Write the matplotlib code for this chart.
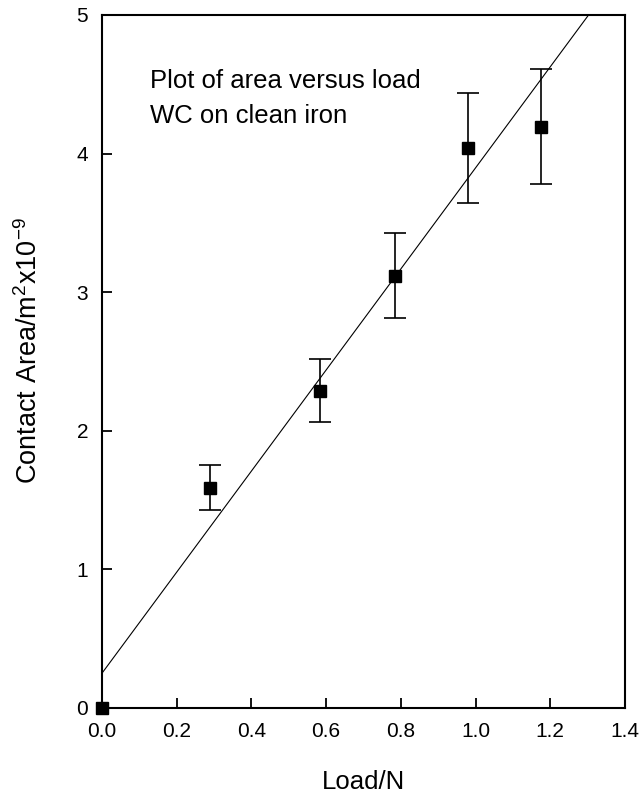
import numpy as np
import matplotlib
matplotlib.use("Agg")
import matplotlib.pyplot as plt

plt.rcParams['font.family'] = ['Liberation Sans', 'DejaVu Sans']
plt.rcParams['mathtext.default'] = 'regular'

# data
load = [0.0, 0.29, 0.585, 0.785, 0.98, 1.175]
area = [0.0, 1.59, 2.29, 3.12, 4.04, 4.19]
err_hi = [0.0, 1.75, 2.52, 3.43, 4.44, 4.61]
err_lo = [0.0, 1.43, 2.06, 2.81, 3.64, 3.78]

fit_x = [0.0, 1.33]
fit_y = [0.25, 5.10]

x_ticks = [0.0, 0.2, 0.4, 0.6, 0.8, 1.0, 1.2, 1.4]
y_ticks = [0, 1, 2, 3, 4, 5]

fig = plt.figure(figsize=(6.41, 7.96), dpi=100)
ax = fig.add_axes([0.159, 0.1106, 0.816, 0.8706])

yerr = np.array([np.array(area) - np.array(err_lo), np.array(err_hi) - np.array(area)])
ax.errorbar(load[1:], area[1:], yerr=yerr[:, 1:], fmt='none', ecolor='black',
            elinewidth=1.2, capsize=8, capthick=1.2)
ax.plot(load, area, 's', color='black', markersize=8.5, clip_on=False, zorder=5)
ax.plot(fit_x, fit_y, '-', color='black', lw=0.8)

ax.set_xlim(0, 1.4)
ax.set_ylim(0, 5)
ax.set_xticks(x_ticks)
ax.set_xticklabels(['%.1f' % v for v in x_ticks])
ax.set_yticks(y_ticks)
ax.tick_params(direction='in', length=7.5, width=1.3, labelsize=15, pad=10)
for s in ax.spines.values():
    s.set_linewidth(1.5)

ax.text(0.128, 4.47, 'Plot of area versus load', fontsize=18.5, va='baseline')
ax.text(0.128, 4.22, 'WC on clean iron', fontsize=18.5, va='baseline')

ax.set_xlabel('Load/N', fontsize=18.5)
ax.set_ylabel('Contact Area/m$^2$x10$^{-9}$', fontsize=19.5)
ax.xaxis.set_label_coords(0.5, -0.089)
ax.yaxis.set_label_coords(-0.113, 0.515)

fig.savefig('out.png', dpi=100)
